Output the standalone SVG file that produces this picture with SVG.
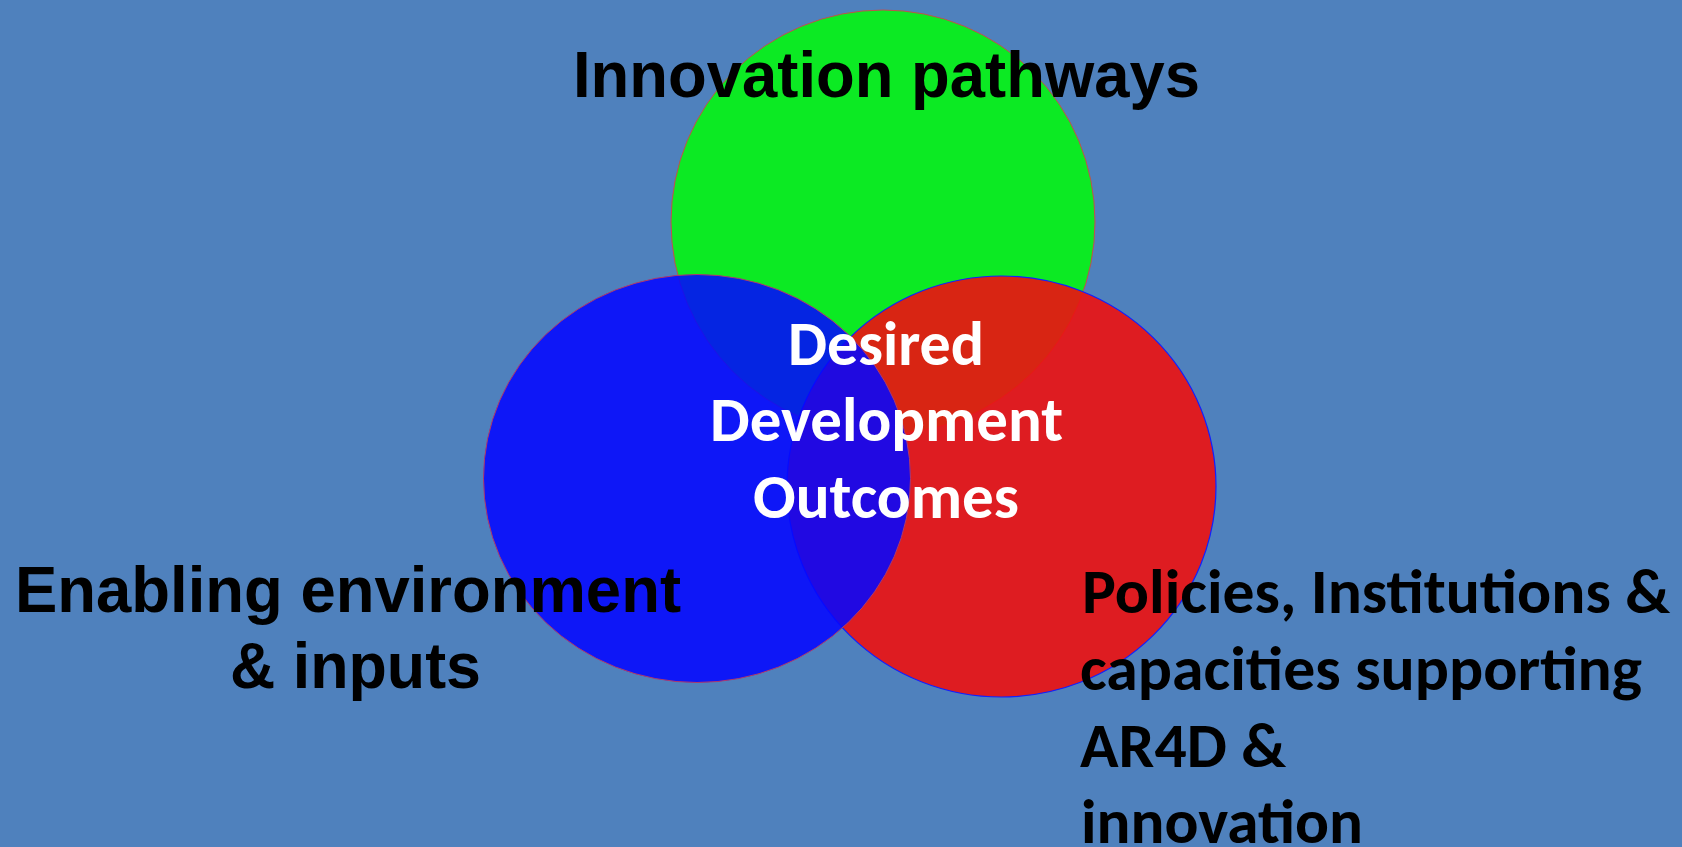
<svg xmlns="http://www.w3.org/2000/svg" width="1682" height="847" viewBox="0 0 1682 847">
  <style>
    .cal { font-family: Carlito, Lato, "Open Sans", sans-serif; font-weight: bold; font-size: 62px; }
    .black { fill: #000000; }
    .white { fill: #FFFFFF; }
  </style>
  <rect x="0" y="0" width="1682" height="847" fill="#4F81BD"/>
  <g id="node-innovation">
    <ellipse cx="883" cy="222" rx="212" ry="212" fill="#0CEA23" stroke="#C0504D" stroke-width="1"/>
  </g>
  <g id="node-policies">
    <ellipse cx="1001.5" cy="486.5" rx="214.5" ry="210.5" fill="#EC1212" fill-opacity="0.91" stroke="#1020FF" stroke-width="1.2"/>
  </g>
  <g id="node-enabling">
    <ellipse cx="697" cy="478.5" rx="213.5" ry="204" fill="#0507FF" fill-opacity="0.87" stroke="#B03A6A" stroke-width="1"/>
  </g>
  <g id="connectors"></g>
  <g id="label-innovation" font-family="Liberation Sans, Arial, Helvetica, sans-serif" font-weight="700" font-size="64" fill="#000000">
    <text x="573" y="97" textLength="627" lengthAdjust="spacingAndGlyphs">Innovation pathways</text>
  </g>
  <g id="label-enabling" font-family="Liberation Sans, Arial, Helvetica, sans-serif" font-weight="700" font-size="64" fill="#000000">
    <text x="15" y="612" textLength="666" lengthAdjust="spacingAndGlyphs">Enabling environment</text>
    <text x="230" y="688" textLength="251" lengthAdjust="spacingAndGlyphs">&amp; inputs</text>
  </g>
  <g id="label-outcomes">
    <text class="cal white" x="788" y="365" textLength="196" lengthAdjust="spacingAndGlyphs">Desired</text>
    <text class="cal white" x="710" y="441" textLength="353" lengthAdjust="spacingAndGlyphs">Development</text>
    <text class="cal white" x="753" y="518" textLength="266" lengthAdjust="spacingAndGlyphs">Outcomes</text>
  </g>
  <g id="label-policies">
    <text class="cal black" x="1082" y="613" textLength="588" lengthAdjust="spacingAndGlyphs">Policies, Institutions &amp;</text>
    <text class="cal black" x="1080" y="690" textLength="562" lengthAdjust="spacingAndGlyphs">capacities supporting</text>
    <text class="cal black" x="1080" y="767" textLength="206" lengthAdjust="spacingAndGlyphs">AR4D &amp;</text>
    <text class="cal black" x="1081" y="843" textLength="282" lengthAdjust="spacingAndGlyphs">innovation</text>
  </g>
</svg>
